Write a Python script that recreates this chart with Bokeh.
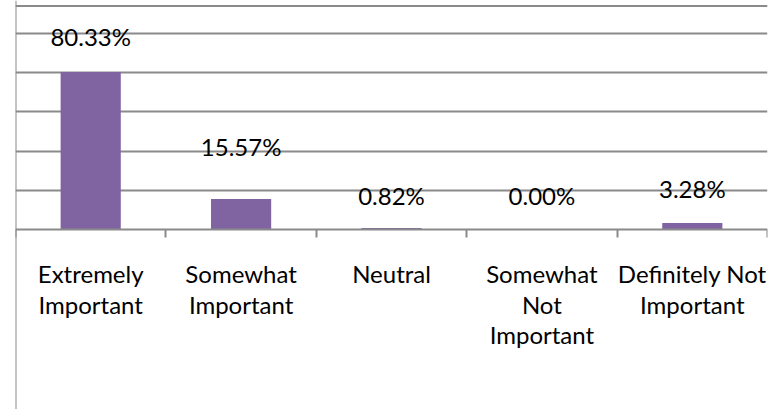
from bokeh.plotting import figure
from bokeh.models import Range1d, FixedTicker, LinearAxis, Span, ColumnDataSource, Grid
from bokeh.core.properties import value
from bokeh.embed import file_html
from bokeh.resources import INLINE

categories = ["Extremely\nImportant", "Somewhat\nImportant", "Neutral",
              "Somewhat\nNot\nImportant", "Definitely Not\nImportant"]
values = [80.33, 15.57, 0.82, 0.00, 3.28]
label_y = [98.5, 42.3, 17.3, 17.1, 20.9]
grid_ticks = [20, 40, 60, 80, 100]

FONT = "Lato"
GRAY = "#8A8A8A"
PURPLE = "#8064A2"

xs = [i + 0.5 for i in range(len(categories))]
bounds = list(range(len(categories) + 1))

p = figure(width=769, height=409, output_backend="svg", toolbar_location=None,
           x_range=Range1d(0, len(categories)), y_range=Range1d(-91.84, 116.84),
           x_axis_type=None, y_axis_type=None,
           min_border_left=15, min_border_right=2, min_border_top=0, min_border_bottom=0)
p.outline_line_color = None
p.background_fill_color = "white"
p.border_fill_color = "white"

src = ColumnDataSource(dict(x=xs, top=values,
                            lab=[f"{v:.2f}%" for v in values], ly=label_y))
p.vbar(x="x", top="top", width=0.4, source=src, fill_color=PURPLE, line_color=None)

p.ygrid.visible = False
grid = Grid(dimension=1, ticker=FixedTicker(ticks=grid_ticks),
            grid_line_color=GRAY, grid_line_width=2)
p.add_layout(grid)

xaxis = LinearAxis(ticker=FixedTicker(ticks=xs, minor_ticks=bounds),
                   fixed_location=0,
                   major_label_overrides={x: c for x, c in zip(xs, categories)})
xaxis.axis_line_color = GRAY
xaxis.axis_line_width = 2
xaxis.major_tick_line_color = None
xaxis.major_tick_out = 0
xaxis.major_tick_in = 0
xaxis.minor_tick_line_color = GRAY
xaxis.minor_tick_line_width = 2
xaxis.minor_tick_out = 8
xaxis.minor_tick_in = 0
xaxis.major_label_standoff = 22
xaxis.major_label_text_font = FONT
xaxis.major_label_text_font_size = "24px"
xaxis.major_label_text_color = "black"
xaxis.major_label_text_line_height = 1.05
p.add_layout(xaxis, "below")

p.add_layout(Span(location=0, dimension="height", line_color=GRAY, line_width=2))
p.add_layout(Span(location=114.0, dimension="width", line_color=GRAY, line_width=2))

p.text(x="x", y="ly", text="lab", source=src, text_align="center",
       text_baseline="middle", text_font=value(FONT), text_font_size="24px",
       text_color="black")

open("out.html", "w").write(file_html(p, INLINE))
